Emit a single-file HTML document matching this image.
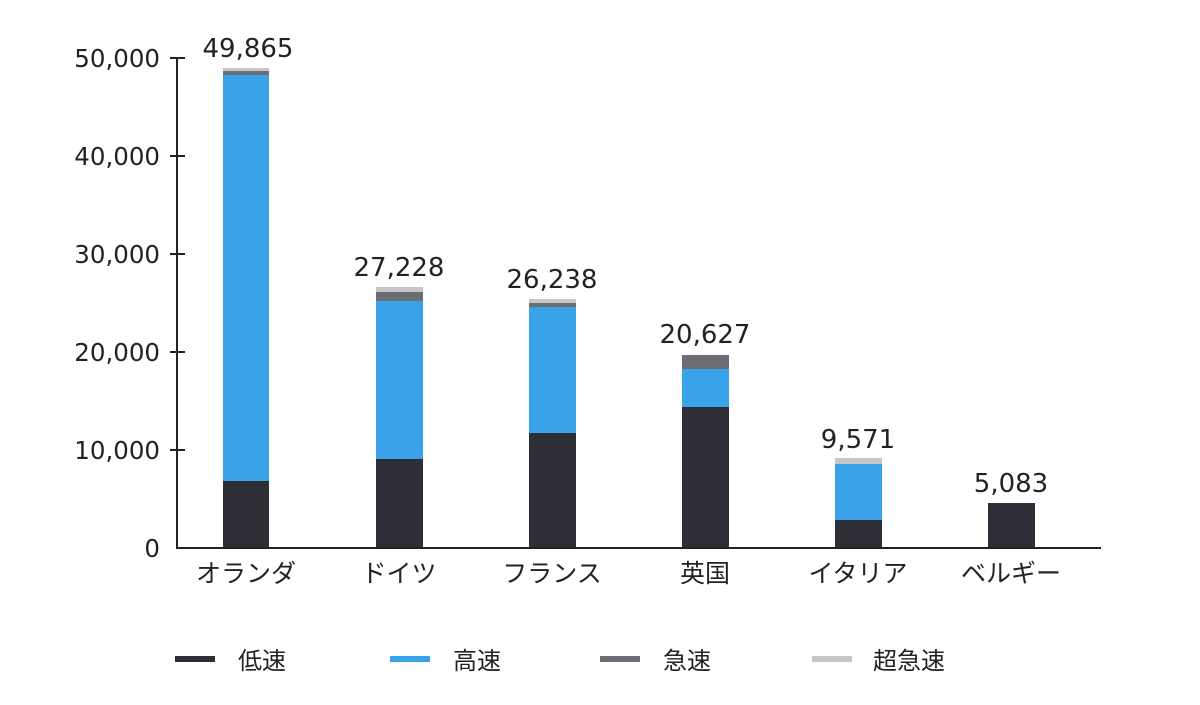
<!DOCTYPE html>
<html><head><meta charset="utf-8"><style>
body{margin:0;background:#fff;}
svg text{font-family:"DejaVu Sans","Noto Sans CJK JP",sans-serif;fill:#222;}
svg text.j{font-family:"Noto Sans CJK JP",sans-serif;}
</style></head><body>
<svg width="1200" height="700" viewBox="0 0 1200 700" xmlns="http://www.w3.org/2000/svg">
<g stroke="#222" stroke-width="2">
<line x1="177" y1="58" x2="177" y2="548"/>
<line x1="176" y1="548" x2="1101" y2="548"/>
<line x1="170" y1="58" x2="185" y2="58"/>
<line x1="170" y1="156" x2="185" y2="156"/>
<line x1="170" y1="254" x2="185" y2="254"/>
<line x1="170" y1="352" x2="185" y2="352"/>
<line x1="170" y1="450" x2="185" y2="450"/>
</g>
<g font-size="24.5" text-anchor="end">
<text x="160" y="67">50,000</text>
<text x="160" y="165">40,000</text>
<text x="160" y="263">30,000</text>
<text x="160" y="361">20,000</text>
<text x="160" y="459">10,000</text>
<text x="160" y="557">0</text>
</g>
<rect x="223" y="68" width="46" height="3" fill="#c5c5ca"/>
<rect x="223" y="71" width="46" height="4" fill="#6c6c74"/>
<rect x="223" y="75" width="46" height="406" fill="#39a2e8"/>
<rect x="223" y="481" width="46" height="66" fill="#2e2e36"/>
<rect x="376" y="287" width="47" height="5" fill="#c5c5ca"/>
<rect x="376" y="292" width="47" height="9" fill="#6c6c74"/>
<rect x="376" y="301" width="47" height="158" fill="#39a2e8"/>
<rect x="376" y="459" width="47" height="88" fill="#2e2e36"/>
<rect x="529" y="299" width="47" height="4" fill="#c5c5ca"/>
<rect x="529" y="303" width="47" height="4" fill="#6c6c74"/>
<rect x="529" y="307" width="47" height="126" fill="#39a2e8"/>
<rect x="529" y="433" width="47" height="114" fill="#2e2e36"/>
<rect x="682" y="355" width="47" height="14" fill="#6c6c74"/>
<rect x="682" y="369" width="47" height="38" fill="#39a2e8"/>
<rect x="682" y="407" width="47" height="140" fill="#2e2e36"/>
<rect x="835" y="458" width="47" height="6" fill="#c5c5ca"/>
<rect x="835" y="464" width="47" height="56" fill="#39a2e8"/>
<rect x="835" y="520" width="47" height="27" fill="#2e2e36"/>
<rect x="988" y="503" width="47" height="44" fill="#2e2e36"/>
<g font-size="26" text-anchor="middle">
<text x="248" y="57">49,865</text>
<text x="399" y="276">27,228</text>
<text x="552" y="288">26,238</text>
<text x="705" y="343">20,627</text>
<text x="858" y="448">9,571</text>
<text x="1011" y="492">5,083</text>
</g>
<g font-size="25" text-anchor="middle">
<text class="j" x="246" y="582">オランダ</text>
<text class="j" x="399" y="582">ドイツ</text>
<text class="j" x="552" y="582">フランス</text>
<text class="j" x="705" y="582">英国</text>
<text class="j" x="858" y="582">イタリア</text>
<text class="j" x="1011" y="582">ベルギー</text>
</g>
<rect x="175" y="656" width="40" height="6" fill="#2e2e36"/>
<rect x="390" y="656" width="40" height="6" fill="#39a2e8"/>
<rect x="600" y="656" width="40" height="6" fill="#6c6c74"/>
<rect x="812" y="656" width="40" height="6" fill="#c5c5ca"/>
<g font-size="24">
<text class="j" x="238" y="669">低速</text>
<text class="j" x="453" y="669">高速</text>
<text class="j" x="663" y="669">急速</text>
<text class="j" x="873" y="669">超急速</text>
</g>
</svg>
</body></html>
